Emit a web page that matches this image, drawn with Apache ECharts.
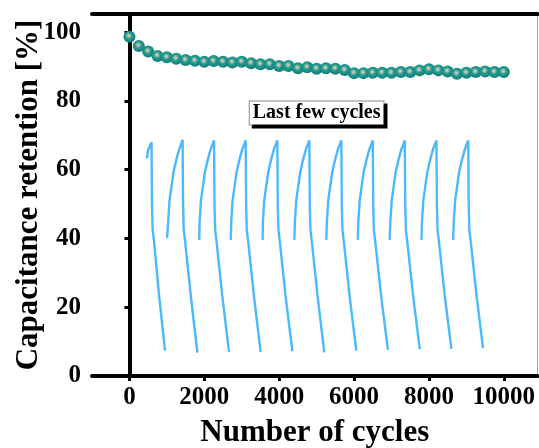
<!DOCTYPE html>
<html><head><meta charset="utf-8">
<script src="https://cdn.jsdelivr.net/npm/echarts@6/dist/echarts.min.js"></script>
<style>html,body{margin:0;padding:0;background:#fff}#c{width:539px;height:448px}</style>
</head><body><div id="c"></div>
<script>
// Capacitance retention vs cycle number
const cycles = [0,250,500,750,1000,1250,1500,1750,2000,2250,2500,2750,3000,3250,3500,3750,4000,4250,4500,4750,5000,5250,5500,5750,6000,6250,6500,6750,7000,7250,7500,7750,8000,8250,8500,8750,9000,9250,9500,9750,10000];
const retention = [98.7,96.0,94.4,93.1,92.7,92.3,91.9,91.7,91.4,91.6,91.4,91.2,91.4,91.0,90.7,90.7,90.2,90.2,89.5,89.8,89.4,89.5,89.4,89.0,88.1,88.1,88.2,88.2,88.2,88.4,88.4,88.9,89.2,88.9,88.6,87.9,88.2,88.4,88.6,88.4,88.4];
const xTicks = [0,2000,4000,6000,8000,10000];
const yTicks = [0,20,40,60,80,100];
// Inset: last few charge/discharge cycles (drawn in the main axes' units)
const gcd1 = [[465,63.3],[500,65.8],[590,68.0],[602,50],[620,42.5],[660,38.8],[795,23.1],[950,7.4]];
const gcd2 = [[1005,40.1],[1035,45],[1070,51],[1122,55.1],[1180,59.5],[1250,62.8],[1330,66],[1420,68.7],[1432,50],[1450,42.5],[1490,38.8],[1640,23.2],[1815,6.8]];
const gcd3 = [[1862,39.6],[1875,45],[1910,51],[1962,55.1],[2020,59.5],[2090,62.8],[2170,66],[2260,68.5],[2272,50],[2290,42.5],[2330,38.8],[2480,23.3],[2660,7.0]];
const gcd4 = [[2707,39.6],[2720,45],[2755,51],[2807,55.1],[2865,59.5],[2935,62.8],[3015,66],[3105,68.5],[3117,50],[3135,42.5],[3175,38.8],[3325,23.3],[3505,7.0]];
const gcd5 = [[3558,39.6],[3565,45],[3600,51],[3652,55.1],[3710,59.5],[3780,62.8],[3860,66],[3950,68.5],[3962,50],[3980,42.5],[4020,38.8],[4170,23.3],[4352,7.2]];
const gcd6 = [[4405,39.6],[4420,45],[4455,51],[4507,55.1],[4565,59.5],[4635,62.8],[4715,66],[4805,68.5],[4817,50],[4835,42.5],[4875,38.8],[5025,23.3],[5205,6.9]];
const gcd7 = [[5259,39.6],[5275,45],[5310,51],[5362,55.1],[5420,59.5],[5490,62.8],[5570,66],[5660,68.5],[5672,50],[5690,42.5],[5730,38.8],[5880,23.4],[6059,7.4]];
const gcd8 = [[6101,39.6],[6115,45],[6150,51],[6202,55.1],[6260,59.5],[6330,62.8],[6410,66],[6500,68.5],[6512,50],[6530,42.5],[6570,38.8],[6720,23.5],[6905,7.6]];
const gcd9 = [[6950,39.6],[6970,45],[7005,51],[7057,55.1],[7115,59.5],[7185,62.8],[7265,66],[7355,68.5],[7367,50],[7385,42.5],[7425,38.8],[7575,23.5],[7755,7.8]];
const gcd10 = [[7800,39.6],[7815,45],[7850,51],[7902,55.1],[7960,59.5],[8030,62.8],[8110,66],[8200,68.5],[8212,50],[8230,42.5],[8270,38.8],[8420,23.6],[8600,7.9]];
const gcd11 = [[8645,39.6],[8665,45],[8700,51],[8752,55.1],[8810,59.5],[8880,62.8],[8960,66],[9050,68.5],[9062,50],[9080,42.5],[9120,38.8],[9270,23.6],[9445,8.1]];
const gcdCycles = [gcd1,gcd2,gcd3,gcd4,gcd5,gcd6,gcd7,gcd8,gcd9,gcd10,gcd11];
const insetLabel = 'Last few cycles';
const insetLabelPos = [5000, 76.5];

const FONT = "'Liberation Serif','Times New Roman',serif";
const chart = echarts.init(document.getElementById('c'), null, {renderer:'canvas'});

const series = [];
gcdCycles.forEach(c => series.push({
  type:'line', data:c, xAxisIndex:0, yAxisIndex:0, showSymbol:false, symbol:'none',
  lineStyle:{color:'#4cb8fd', width:2.4}, silent:true, z:2, animation:false
}));
series.push({
  type:'scatter', data:[insetLabelPos], symbolSize:0, z:3, silent:true, animation:false,
  itemStyle:{opacity:1},
  label:{show:true, position:'inside', formatter:insetLabel, fontFamily:FONT, fontWeight:'bold',
    fontSize:20, lineHeight:20, color:'#000', backgroundColor:'#ffffff', borderColor:'#8a8a8a', borderWidth:1,
    padding:[2,3,1,3], shadowColor:'#000', shadowBlur:0, shadowOffsetX:3, shadowOffsetY:3,
    textShadowColor:'transparent', textShadowBlur:0, opacity:1}
});
series.push({
  type:'scatter', data:cycles.map((c,i)=>[c,retention[i]]), symbolSize:12, z:5, animation:false,
  itemStyle:{opacity:1, color:{type:'radial', x:0.45, y:0.42, r:0.58, colorStops:[
    {offset:0,color:'#e2d6bb'},{offset:0.18,color:'#b4bca4'},{offset:0.45,color:'#1f9d94'},{offset:1,color:'#127a74'}]}}
});

chart.setOption({
  backgroundColor:'#fff',
  animation:false,
  grid:{left:92, right:1.5, top:14, bottom:72, containLabel:false, outerBoundsMode:'none'},
  xAxis:[{
    type:'value', min:-1000, max:10900, position:'bottom',
    name:'Number of cycles', nameLocation:'middle', nameGap:41,
    nameTextStyle:{fontFamily:FONT, fontWeight:'bold', fontSize:31, color:'#000'},
    axisLine:{show:true, lineStyle:{color:'#000', width:4}},
    axisTick:{show:true, inside:false, length:5, customValues:xTicks, lineStyle:{color:'#000', width:3}},
    axisLabel:{customValues:xTicks, formatter:v=>String(v), margin:9, fontFamily:FONT, fontWeight:'bold', fontSize:25, color:'#000'},
    splitLine:{show:false}
  },{
    type:'value', min:-1000, max:10900, position:'top',
    axisLine:{show:true, onZero:false, lineStyle:{color:'#000', width:4}},
    axisTick:{show:false}, axisLabel:{show:false}, splitLine:{show:false}
  }],
  yAxis:[{
    type:'value', min:0, max:105.3,
    name:'Capacitance retention [%]', nameLocation:'middle', nameGap:48, nameMoveOverlap:false,
    nameTextStyle:{fontFamily:FONT, fontWeight:'bold', fontSize:31, color:'#000'},
    axisLine:{show:true, lineStyle:{color:'#000', width:4}},
    axisTick:{show:true, inside:false, length:5, customValues:yTicks, lineStyle:{color:'#000', width:3}},
    axisLabel:{customValues:yTicks, formatter:v=>String(v), margin:11, fontFamily:FONT, fontWeight:'bold', fontSize:25, color:'#000'},
    splitLine:{show:false}
  },{
    type:'value', min:0, max:105.3, position:'right',
    axisLine:{show:true, onZero:false, lineStyle:{color:'#a0a0a0', width:1}},
    axisTick:{show:false}, axisLabel:{show:false}, splitLine:{show:false}
  }],
  series:series
});
</script></body></html>
